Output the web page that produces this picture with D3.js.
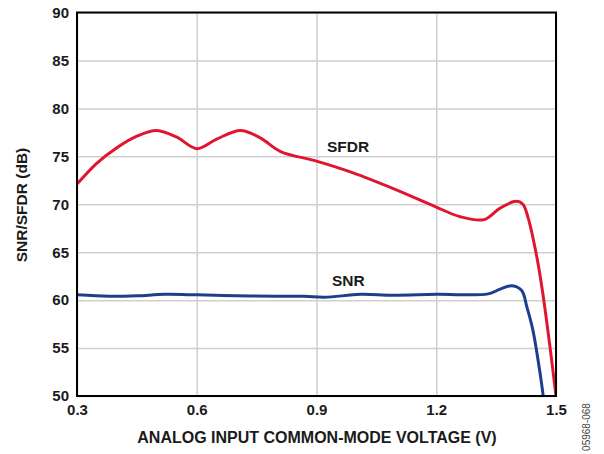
<!DOCTYPE html>
<html>
<head>
<meta charset="utf-8">
<script src="https://cdn.jsdelivr.net/npm/d3@7"></script>
<style>
  body { margin: 0; background: #fff; }
  text { font-family: "Liberation Sans", Arial, sans-serif; }
  .tick text { font-weight: bold; font-size: 15px; fill: #1a1a1a; }
</style>
</head>
<body>
<div id="chart"></div>
<script>
////////////////////////////////////////////////////////////////////////
// Data

// SFDR curve (V, dB)
let sfdrVolts = [0.30, 0.35, 0.40, 0.45, 0.50, 0.55, 0.60, 0.65, 0.71, 0.76, 0.81,
  0.90, 0.99, 1.10, 1.20, 1.26, 1.32, 1.36, 1.40, 1.417, 1.43, 1.452, 1.467, 1.485, 1.50];
let sfdrDb = [72.1, 74.3, 75.9, 77.1, 77.7, 77.0, 75.8, 76.8, 77.7, 76.9, 75.5,
  74.5, 73.3, 71.5, 69.7, 68.7, 68.4, 69.6, 70.3, 70.0, 68.6, 64.5, 60.7, 55.1, 50.0];

// SNR curve (V, dB)
let snrVolts = [0.30, 0.38, 0.45, 0.52, 0.60, 0.70, 0.80, 0.87, 0.92, 1.01, 1.09, 1.20,
  1.33, 1.36, 1.39, 1.414, 1.427, 1.442, 1.46, 1.468];
let snrDb = [60.55, 60.4, 60.45, 60.6, 60.55, 60.45, 60.4, 60.4, 60.3, 60.6, 60.5, 60.6,
  60.65, 61.15, 61.5, 61.0, 59.3, 56.9, 52.4, 50.0];

// axis ticks
let xTicks = [0.3, 0.6, 0.9, 1.2, 1.5];
let yTicks = [50, 55, 60, 65, 70, 75, 80, 85, 90];

////////////////////////////////////////////////////////////////////////
// Canvas
let width = 604;
let height = 454;
let plotLeft = 77, plotRight = 556, plotTop = 12.5, plotBottom = 396;

let svg = d3.select("#chart")
  .append("svg")
  .attr("width", width).attr("height", height);

let xScale = d3.scaleLinear().domain([0.3, 1.5]).range([plotLeft, plotRight]);
let yScale = d3.scaleLinear().domain([50, 90]).range([plotBottom, plotTop]);

// gridlines
svg.append("g")
  .attr("transform", "translate(0," + plotBottom + ")")
  .call(d3.axisBottom(xScale).tickValues(xTicks).tickSize(-(plotBottom - plotTop)).tickFormat(""))
  .call(g => g.select(".domain").remove())
  .selectAll("line").attr("stroke", "#cfcfcf").attr("stroke-width", 1.5);

svg.append("g")
  .attr("transform", "translate(" + plotLeft + ",0)")
  .call(d3.axisLeft(yScale).tickValues(yTicks).tickSize(-(plotRight - plotLeft)).tickFormat(""))
  .call(g => g.select(".domain").remove())
  .selectAll("line").attr("stroke", "#cfcfcf").attr("stroke-width", 1.5);

////////////////////////////////////////////////////////////////////////
// curves
svg.append("clipPath").attr("id", "plotclip")
  .append("rect")
  .attr("x", plotLeft).attr("y", plotTop)
  .attr("width", plotRight - plotLeft).attr("height", plotBottom - plotTop);

let line = d3.line()
  .x(d => xScale(d[0]))
  .y(d => yScale(d[1]))
  .curve(d3.curveCatmullRom.alpha(0.5));

let snrPts = snrVolts.map((v, i) => [v, snrDb[i]]);
let sfdrPts = sfdrVolts.map((v, i) => [v, sfdrDb[i]]);

svg.append("path")
  .attr("d", line(snrPts))
  .attr("clip-path", "url(#plotclip)")
  .attr("fill", "none")
  .attr("stroke", "#1c3f8c")
  .attr("stroke-width", 3);

svg.append("path")
  .attr("d", line(sfdrPts))
  .attr("clip-path", "url(#plotclip)")
  .attr("fill", "none")
  .attr("stroke", "#e0162f")
  .attr("stroke-width", 3);

////////////////////////////////////////////////////////////////////////
// frame and axes
svg.append("rect")
  .attr("x", plotLeft).attr("y", plotTop)
  .attr("width", plotRight - plotLeft).attr("height", plotBottom - plotTop)
  .attr("fill", "none")
  .attr("stroke", "#000")
  .attr("stroke-width", 2);

svg.append("g")
  .attr("transform", "translate(0," + plotBottom + ")")
  .call(d3.axisBottom(xScale).tickValues(xTicks).tickSize(0).tickPadding(8).tickFormat(d3.format(".1f")))
  .call(g => g.select(".domain").remove());

svg.append("g")
  .attr("transform", "translate(" + plotLeft + ",0)")
  .call(d3.axisLeft(yScale).tickValues(yTicks).tickSize(0).tickPadding(8))
  .call(g => g.select(".domain").remove());

// axis titles
svg.append("text")
  .attr("x", 317).attr("y", 443)
  .attr("text-anchor", "middle")
  .attr("font-weight", "bold").attr("font-size", 16)
  .attr("fill", "#1a1a1a")
  .text("ANALOG INPUT COMMON-MODE VOLTAGE (V)");

svg.append("text")
  .attr("transform", "translate(27,205) rotate(-90)")
  .attr("text-anchor", "middle")
  .attr("font-weight", "bold").attr("font-size", 15.5)
  .attr("fill", "#1a1a1a")
  .text("SNR/SFDR (dB)");

// series labels
svg.append("text")
  .attr("x", 327).attr("y", 152)
  .attr("font-weight", "bold").attr("font-size", 15.5)
  .attr("fill", "#1a1a1a")
  .text("SFDR");

svg.append("text")
  .attr("x", 332).attr("y", 286)
  .attr("font-weight", "bold").attr("font-size", 15.5)
  .attr("fill", "#1a1a1a")
  .text("SNR");

// figure id
svg.append("text")
  .attr("transform", "translate(590,427) rotate(-90)")
  .attr("text-anchor", "middle")
  .attr("font-size", 10)
  .attr("fill", "#444")
  .text("05968-068");
</script>
</body>
</html>
